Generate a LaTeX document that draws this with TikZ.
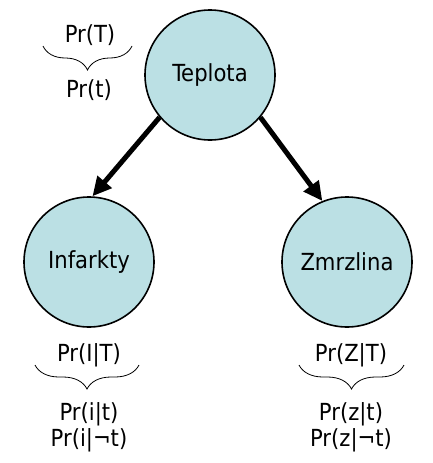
\documentclass[tikz,border=0pt]{standalone}
\usepackage{fontspec}
\setmainfont{DejaVu Sans Condensed}
\usetikzlibrary{arrows.meta,decorations.pathreplacing}
\definecolor{nodefill}{RGB}{187,224,228}
\begin{document}
\begin{tikzpicture}[x=1pt,y=-1pt,
  var/.style={circle, draw=black, line width=1.6pt, fill=nodefill, minimum size=130pt, inner sep=0pt, font=\fontsize{23.5}{27}\selectfont},
  lbl/.style={font=\fontsize{23.5}{27}\selectfont, inner sep=0pt},
  edge/.style={line width=5pt, -{Triangle[length=19pt,width=18pt]}},
  brc/.style={decorate, decoration={brace, mirror, amplitude=24pt}, line width=0.8pt}]
\useasboundingbox (0,0) rectangle (433,463);
\node[var] (t) at (210,75) {Teplota};
\node[var] (i) at (89,262) {Infarkty};
\node[var] (z) at (347,262) {Zmrzlina};
\draw[edge] (t.220) -- (i.87);
\draw[edge] (t.320) -- (z.112);
% top-left
\node[lbl] (pT) at (90,35) {Pr(T)};
\coordinate (b1l) at (43,46);
\coordinate (b1r) at (132,46);
\draw[brc] (b1l) -- (b1r);
\node[lbl] (pt) at (89,90) {Pr(t)};
% left
\node[lbl] (pIT) at (89,355) {Pr(I|T)};
\coordinate (b2l) at (35,365);
\coordinate (b2r) at (139,365);
\draw[brc] (b2l) -- (b2r);
\node[lbl] (pit) at (89,414) {Pr(i|t)};
\node[lbl] (pint) at (89,440) {Pr(i|¬t)};
% right
\node[lbl] (pZT) at (351,355) {Pr(Z|T)};
\coordinate (b3l) at (299,365);
\coordinate (b3r) at (404,365);
\draw[brc] (b3l) -- (b3r);
\node[lbl] (pzt) at (351,414) {Pr(z|t)};
\node[lbl] (pznt) at (351,440) {Pr(z|¬t)};
\end{tikzpicture}
\end{document}
